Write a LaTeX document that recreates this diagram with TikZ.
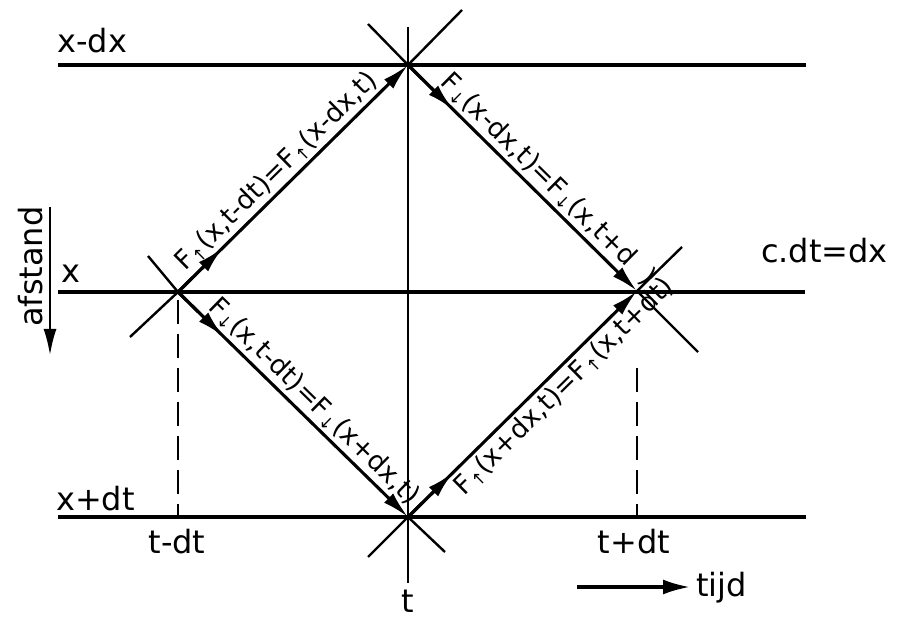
\documentclass[tikz,border=0pt]{standalone}
\usepackage{fontspec}
\setmainfont{DejaVu Sans}
\usetikzlibrary{arrows.meta,calc}
\newcommand{\upa}{\raisebox{-0.3ex}{\fontsize{17}{17}\selectfont ↑}}
\newcommand{\dna}{\raisebox{-0.3ex}{\fontsize{17}{17}\selectfont ↓}}
\begin{document}
\begin{tikzpicture}[x=1pt,y=-1pt,
  hline/.style={line width=3.8pt},
  edgeline/.style={line width=3.1pt},
  arm/.style={line width=2.4pt},
  vline/.style={line width=2.4pt},
  dashedv/.style={line width=2pt, dash pattern=on 24pt off 10pt},
  arrowed/.style={-{Latex[length=27pt,width=13pt]}},
  lbl/.style={font=\fontsize{32}{34}\selectfont, inner sep=0pt},
  dlbl/.style={font=\fontsize{26.5}{28}\selectfont, inner sep=3pt}]
\useasboundingbox (0,0) rectangle (897,620);
% vertices
\coordinate (T) at (408,65);
\coordinate (L) at (178,292);
\coordinate (R) at (637,291);
\coordinate (B) at (408,517);
% horizontal lines
\coordinate (h1a) at (58,65);  \coordinate (h1b) at (806,65);
\coordinate (h2a) at (58,292); \coordinate (h2b) at (805,292);
\coordinate (h3a) at (58,517); \coordinate (h3b) at (806,517);
\draw[hline] (h1a) -- (h1b);
\draw[hline] (h2a) -- (h2b);
\draw[hline] (h3a) -- (h3b);
% vertical line t
\coordinate (v1) at (408,27); \coordinate (v2) at (408,583);
\draw[vline] (v1) -- (v2);
% dashed lines
\coordinate (d1a) at (178,300); \coordinate (d1b) at (178,517);
\coordinate (d2a) at (637,368); \coordinate (d2b) at (637,517);
\draw[dashedv] (d1a) -- (d1b);
\draw[dashedv] (d2a) -- (d2b);
% arms of the crosses
\coordinate (aT1) at (368,24);  \coordinate (aT2) at (462,10);
\coordinate (aL1) at (148,256); \coordinate (aL2) at (130,337);
\coordinate (aR1) at (682,247); \coordinate (aR2) at (698,352);
\coordinate (aB1) at (368,557); \coordinate (aB2) at (445,552);
\draw[arm] (T) -- (aT1);
\draw[arm] (T) -- (aT2);
\draw[arm] (L) -- (aL1);
\draw[arm] (L) -- (aL2);
\draw[arm] (R) -- (aR1);
\draw[arm] (R) -- (aR2);
\draw[arm] (B) -- (aB1);
\draw[arm] (B) -- (aB2);
% diamond edges with arrows
\draw[edgeline,arrowed] (L) -- ($(L)!63pt!(T)$);
\draw[edgeline,arrowed] (L) -- (T)
  node[pos=0.48,sloped,above,dlbl] (lab1) {F\upa(x,t-dt)=F\upa(x-dx,t)};
\draw[edgeline,arrowed] (T) -- ($(T)!63pt!(R)$);
\draw[edgeline,arrowed] (T) -- (R)
  node[pos=0.56,sloped,above,dlbl] (lab2) {F\dna(x-dx,t)=F\dna(x,t+d\ \ )};
\draw[edgeline,arrowed] (L) -- ($(L)!63pt!(B)$);
\draw[edgeline,arrowed] (L) -- (B)
  node[pos=0.54,sloped,above,dlbl] (lab3) {F\dna(x,t-dt)=F\dna(x+dx,t)};
\draw[edgeline,arrowed] (B) -- ($(B)!63pt!(R)$);
\draw[edgeline,arrowed] (B) -- (R)
  node[pos=0.63,sloped,below,dlbl] (lab4) {F\upa(x+dx,t)=F\upa(x,t+dt)};
% axis labels
\node[lbl,anchor=base west] (lxdx) at (57,53) {x-dx};
\node[lbl,anchor=base west] (lx) at (61,283) {x};
\node[lbl,anchor=base west] (lxpdt) at (56,510) {x+dt};
\node[lbl,anchor=base] (ltmdt) at (177,553) {t-dt};
\node[lbl,anchor=base] (ltpdt) at (634,553) {t+dt};
\node[lbl,anchor=base] (lt) at (408,612) {t};
\node[lbl,anchor=base west] (lcdt) at (761,263) {c.dt=dx};
\node[lbl,rotate=90,anchor=base west] (lafs) at (42,327) {afstand};
\node[lbl,anchor=base west] (ltijd) at (696,596) {tijd};
% afstand arrow
\coordinate (af1) at (50,207); \coordinate (af2) at (50,355);
\draw[line width=2pt,-{Latex[length=26pt,width=13pt]}] (af1) -- (af2);
% tijd arrow
\coordinate (tj1) at (577,587); \coordinate (tj2) at (690,587);
\draw[line width=3.2pt,-{Latex[length=27pt,width=15pt]}] (tj1) -- (tj2);
\end{tikzpicture}
\end{document}
